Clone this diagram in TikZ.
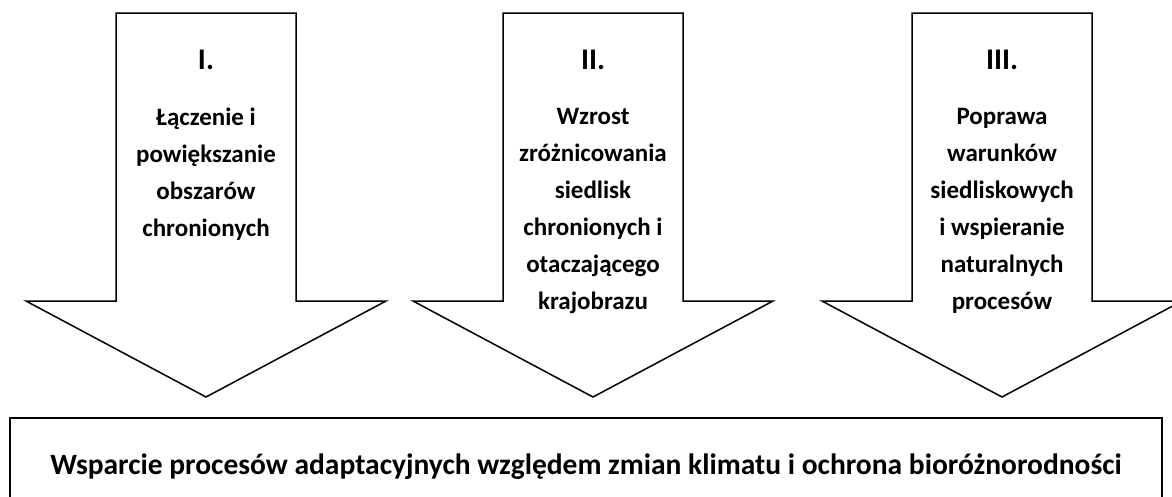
\documentclass[tikz,border=0pt]{standalone}
\usepackage{fontspec}
\setmainfont{Carlito}
\usetikzlibrary{positioning}

\begin{document}
\begin{tikzpicture}[
		x=1pt,
		y=-1pt,
		line width=1.5pt,
		font=\bfseries\fontsize{25}{37}\selectfont,
		node distance=37pt
		]
		% Define the half widths of the arrow shaft and head.
			\def\shafthalf{90}
			\def\headhalf{180}
		\tikzstyle{stage arrow}=[
			draw,
			fill=white,
			line join=miter
		]
		\tikzstyle{numeral}=[
			inner sep=0 pt,
			font=\bfseries\fontsize{30}{36}\selectfont
		]
		\tikzstyle{stage text}=[
			align=center,
			inner sep=0 pt
		]
		\tikzstyle{goal box}=[
			draw,
			minimum width=1152 pt,
			minimum height=98 pt,
			font=\bfseries\fontsize{29.5}{35}\selectfont
		]
		\useasboundingbox (0,0) rectangle (1172,496);
		\clip (0,0) rectangle (1172,496);
		% Draw the three arrows.
			\foreach \name / \x in {1/206, 2/593, 3/1002}
				\draw[stage arrow] (\x-\shafthalf,13) -- (\x+\shafthalf,13)
					-- (\x+\shafthalf,301) -- (\x+\headhalf,301) -- (\x,397)
					-- (\x-\headhalf,301) -- (\x-\shafthalf,301) -- cycle;
		% Put the numerals on the arrows.
			\node[numeral] (N-1) at (206,60) {I.};
			\node[numeral] (N-2) at (593,60) {II.};
			\node[numeral] (N-3) at (1002,60) {III.};
		% Put the texts below the numerals.
			\node[stage text, below=of N-1] (T-1) {Łączenie i\\powiększanie\\obszarów\\chronionych};
			\node[stage text, below=of N-2] (T-2) {Wzrost\\zróżnicowania\\siedlisk\\chronionych i\\otaczającego\\krajobrazu};
			\node[stage text, below=of N-3] (T-3) {Poprawa\\warunków\\siedliskowych\\i wspieranie\\naturalnych\\procesów};
		% Draw the box of the common goal.
			\node[goal box] (G) at (586,467) {Wsparcie procesów adaptacyjnych względem zmian klimatu i ochrona bioróżnorodności};
	\end{tikzpicture}
\end{document}
